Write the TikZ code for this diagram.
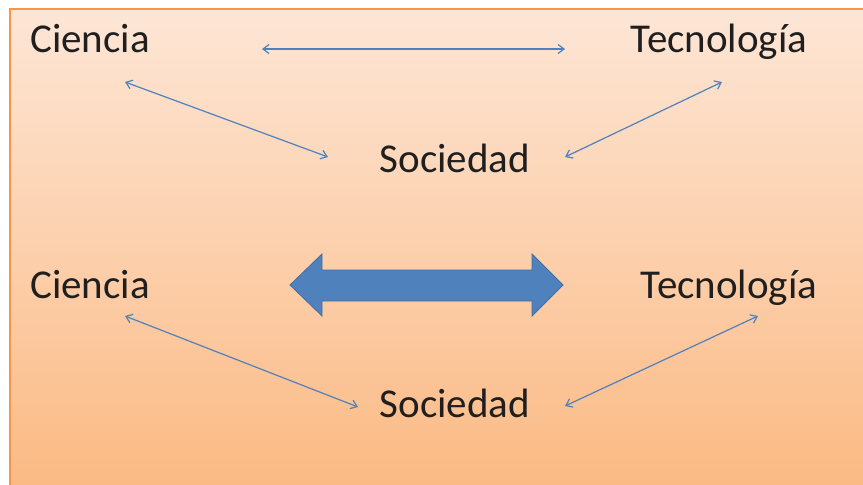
\documentclass[tikz,border=0pt]{standalone}
\usepackage{fontspec}
\setmainfont{Carlito}
\usetikzlibrary{arrows.meta}
\definecolor{arrowblue}{HTML}{4F81BD}
\definecolor{bordor}{HTML}{F79646}
\definecolor{topfill}{HTML}{FDE6D6}
\definecolor{botfill}{HTML}{FBB982}
\tikzset{
  lbl/.style={font=\fontsize{41}{45}\selectfont, inner sep=0pt, anchor=base, text=black!88},
  thin arrow/.style={draw=arrowblue, line width=1.2pt, {Straight Barb[length=6pt,width=9pt]}-{Straight Barb[length=6pt,width=9pt]}},
  block arrow/.style={fill=arrowblue, draw=arrowblue!85!black, line width=0.8pt, line join=miter}
}
\begin{document}
\begin{tikzpicture}[x=1pt,y=-1pt]
\useasboundingbox (0,0) rectangle (863,485);
\fill[white] (0,0) rectangle (863,485);
\shade[top color=topfill, bottom color=botfill] (10,9) rectangle (875,495);
\draw[bordor, line width=2pt] (10,495) -- (10,9) -- (875,9);
% labels
\node[lbl] (c1) at (90,52) {Ciencia};
\node[lbl] (t1) at (719,52) {Tecnología};
\node[lbl] (s1) at (455,172) {Sociedad};
\node[lbl] (c2) at (90,298) {Ciencia};
\node[lbl] (t2) at (729,298) {Tecnología};
\node[lbl] (s2) at (455,417.5) {Sociedad};
% connector end points
\coordinate (ct1) at (262,49);
\coordinate (tc1) at (565,49);
\coordinate (cs1) at (125,82);
\coordinate (sc1) at (328,157);
\coordinate (ts1) at (722,82);
\coordinate (st1) at (565,157);
\coordinate (cs2) at (125,316);
\coordinate (sc2) at (358,407);
\coordinate (ts2) at (758,316);
\coordinate (st2) at (565,406);
\draw[thin arrow] (ct1) -- (tc1);
\draw[thin arrow] (cs1) -- (sc1);
\draw[thin arrow] (ts1) -- (st1);
\draw[thin arrow] (cs2) -- (sc2);
\draw[thin arrow] (ts2) -- (st2);
% block double arrow
\draw[block arrow] (290,285) -- (322,254) -- (322,270) -- (532,270) -- (532,254) -- (563,285)
  -- (532,316) -- (532,301) -- (322,301) -- (322,316) -- cycle;
\end{tikzpicture}
\end{document}
